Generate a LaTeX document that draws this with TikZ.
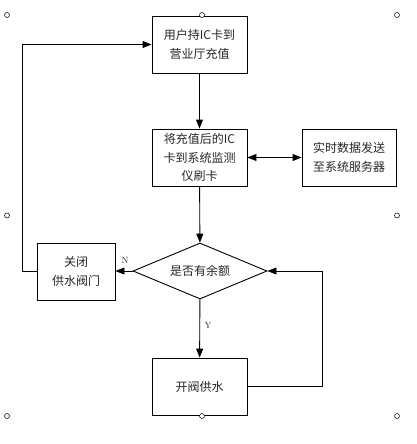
\documentclass[tikz,border=0pt]{standalone}
\usepackage{fontspec}
\newfontfamily\cjk{Noto Sans CJK SC}
\usetikzlibrary{arrows.meta,shapes.geometric}
\begin{document}
\begin{tikzpicture}[x=1pt,y=-1pt,
  box/.style={draw,line width=0.9pt,minimum width=95pt,minimum height=57pt,inner sep=0pt,align=center,font=\cjk\fontsize{12}{18.5}\selectfont,text=black!85},
  dec/.style={draw,diamond,aspect=2.4,line width=0.9pt,minimum width=134pt,minimum height=56pt,inner sep=0pt,font=\cjk\fontsize{12}{18.5}\selectfont,text=black!85},
  conn/.style={line width=0.9pt,-{Triangle[length=9pt,width=7pt]}},
  handle/.style={draw,circle,fill=white,line width=0.5pt,minimum size=5pt,inner sep=0pt},
  lbl/.style={font=\fontsize{9}{10}\selectfont,text=black!85}]
\useasboundingbox (0,0) rectangle (417,444);
\node[box] (b1) at (199.5,44.5) {用户持IC卡到\\营业厅充值};
\node[box] (b2) at (199.5,157.5) {将充值后的IC\\卡到系统监测\\仪刷卡};
\node[box,minimum width=94pt] (b3) at (349,157.5) {实时数据发送\\至系统服务器};
\node[dec] (d) at (200,271) {是否有余额};
\node[box,minimum width=78pt] (b4) at (76,271.5) {关闭\\供水阀门};
\node[box] (b5) at (199.5,386.5) {开阀供水};
\coordinate (lx) at (22.7,0);
\coordinate (rx) at (322,0);
\draw[conn] (b1) -- (b2);
\draw[line width=0.9pt,{Triangle[length=9pt,width=7pt]}-{Triangle[length=9pt,width=7pt]}] (b2) -- (b3);
\draw[conn] (b2) -- (d);
\draw[conn] (d.west) -- (b4.east |- d.west);
\draw[conn] (d) -- (b5);
\draw[conn] (b5.east) -- (b5.east -| rx) |- (d.east);
\draw[conn] (b4.west) -- (b4.west -| lx) |- (b1.west);
\node[lbl] (n) at (125,260) {N};
\node[lbl] (y) at (208,325) {Y};
\foreach \i/\p in {h1/{(7,15)},h2/{(202,15)},h3/{(397,15)},h4/{(7,215.5)},h5/{(397,215.5)},h6/{(7,416)},h7/{(202,416)},h8/{(397,416)}}
  \node[handle] (\i) at \p {};
\end{tikzpicture}
\end{document}
